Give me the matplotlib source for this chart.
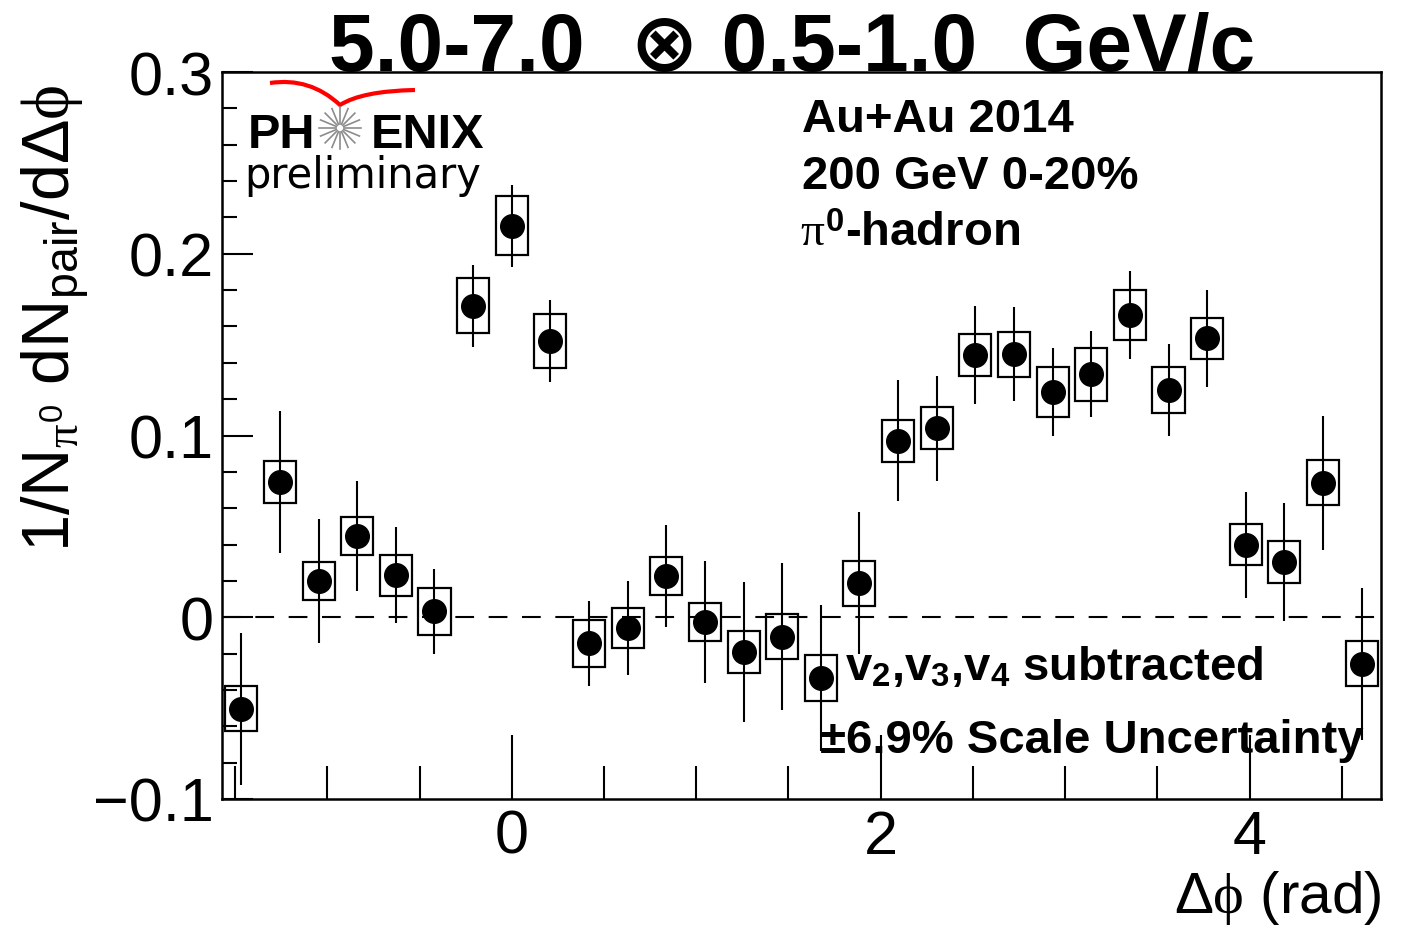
import numpy as np
import matplotlib
matplotlib.use("Agg")
import matplotlib.pyplot as plt
from matplotlib.ticker import MultipleLocator, FuncFormatter
from matplotlib.path import Path
from matplotlib.patches import PathPatch

plt.rcParams["font.family"] = ["Liberation Sans", "DejaVu Sans"]
plt.rcParams["mathtext.fontset"] = "custom"
plt.rcParams["mathtext.rm"] = "Liberation Sans"
plt.rcParams["mathtext.it"] = "Liberation Serif"
plt.rcParams["mathtext.bf"] = "Liberation Sans:bold"

# 30 bins in delta-phi from -pi/2 to 3pi/2
edges = np.linspace(-np.pi / 2, 3 * np.pi / 2, 31)
dphi = 0.5 * (edges[:-1] + edges[1:])

yield_vals = [-0.0503, 0.0744, 0.0199, 0.0447, 0.0232, 0.0034, 0.1713, 0.2153,
              0.1520, -0.0142, -0.0059, 0.0227, -0.0026, -0.0191, -0.0108, -0.0334,
              0.0188, 0.0970, 0.1041, 0.1443, 0.1448, 0.1239, 0.1338, 0.1663,
              0.1250, 0.1536, 0.0398, 0.0304, 0.0739, -0.0256]
stat_err = [0.0418, 0.0391, 0.0341, 0.0305, 0.0264, 0.0234, 0.0226, 0.0226,
            0.0223, 0.0234, 0.0256, 0.0281, 0.0336, 0.0385, 0.0404, 0.0404,
            0.0391, 0.0333, 0.0289, 0.0270, 0.0259, 0.0242, 0.0237, 0.0242,
            0.0253, 0.0267, 0.0292, 0.0325, 0.0371, 0.0418]
sys_err = [0.0124, 0.0116, 0.0105, 0.0105, 0.0113, 0.0129, 0.0151, 0.0162,
           0.0151, 0.0129, 0.0110, 0.0105, 0.0107, 0.0116, 0.0124, 0.0127,
           0.0124, 0.0116, 0.0116, 0.0116, 0.0124, 0.0138, 0.0146, 0.0140,
           0.0127, 0.0113, 0.0113, 0.0116, 0.0124, 0.0124]

y = np.array(yield_vals)
sy = np.array(sys_err)

W, H = 1409, 929
fig = plt.figure(figsize=(W / 100, H / 100), dpi=100)
ax = fig.add_axes([222 / W, 1 - 800 / H, (1381 - 222) / W, (800 - 73) / H])

ax.axhline(0, color="k", lw=1.5, dashes=(9, 7), zorder=1)
ax.bar(dphi, 2 * sy, bottom=y - sy, width=0.174, fill=False,
       edgecolor="k", linewidth=1.6, zorder=2)
ax.errorbar(dphi, y, yerr=stat_err, fmt="o", color="k", ms=17,
            elinewidth=1.5, capsize=0, zorder=3)

ax.set_xlim(-np.pi / 2, 3 * np.pi / 2)
ax.set_ylim(-0.1, 0.3)
ax.set_xticks([0, 2, 4])
ax.xaxis.set_minor_locator(MultipleLocator(0.5))
ax.yaxis.set_major_locator(MultipleLocator(0.1))
ax.yaxis.set_minor_locator(MultipleLocator(0.02))


def yfmt(v, pos):
    if abs(v) < 1e-9:
        return "0"
    return f"{v:.1f}".replace("-", "\u2212")


ax.yaxis.set_major_formatter(FuncFormatter(yfmt))
ax.xaxis.set_major_formatter(FuncFormatter(lambda v, p: f"{v:.0f}"))
ax.tick_params(axis="both", which="both", direction="in", top=False,
               right=False, width=1.5, labelsize=44)
ax.tick_params(axis="y", which="major", length=22, pad=6)
ax.tick_params(axis="y", which="minor", length=11)
ax.tick_params(axis="x", which="major", length=46, pad=7)
ax.tick_params(axis="x", which="minor", length=24)
for s in ax.spines.values():
    s.set_linewidth(1.8)

# labels
fig.text(55 / W, 1 - 85 / H,
         r"$\mathrm{1/N}_{\pi^{0}}\ \mathrm{dN}_{\mathrm{pair}}\mathrm{/d}\Delta\phi$",
         rotation=90, ha="center", va="top", fontsize=48)
fig.text(1381 / W, 1 - 898 / H, r"$\Delta\phi$ (rad)", ha="right",
         va="center", fontsize=42)

fig.text(792 / W, 1 - 71 / H, "5.0-7.0  \u2297 0.5-1.0  GeV/c", ha="center",
         va="baseline", fontsize=59, fontweight="bold")

bold = dict(fontsize=34, fontweight="bold", ha="left", va="baseline")
fig.text(802 / W, 1 - 132 / H, "Au+Au 2014", **bold)
fig.text(802 / W, 1 - 189 / H, "200 GeV 0-20%", **bold)
fig.text(800 / W, 1 - 246 / H, r"$\pi^{\mathbf{0}}$-hadron", **bold)
fig.text(845 / W, 1 - 680 / H,
         r"v$_{\mathbf{2}}$,v$_{\mathbf{3}}$,v$_{\mathbf{4}}$ subtracted", **bold)
fig.text(820 / W, 1 - 753 / H, "\u00b16.9% Scale Uncertainty", **bold)

# PHENIX preliminary logo
logo = dict(fontsize=35, fontweight="bold", family="Liberation Sans",
            va="baseline", color="k")
fig.text(248 / W, 1 - 148 / H, "PH", ha="left", **logo)
fig.text(484 / W, 1 - 148 / H, "ENIX", ha="right", **logo)
fig.text(244 / W, 1 - 188 / H, "preliminary", family="DejaVu Sans",
         fontsize=30, ha="left", va="baseline")

cx, cy = 340, 129
for a in np.linspace(0, 2 * np.pi, 16, endpoint=False):
    x0, y0 = cx + 4 * np.cos(a), cy + 4 * np.sin(a)
    x1, y1 = cx + 21 * np.cos(a), cy + 21 * np.sin(a)
    fig.add_artist(plt.Line2D([x0 / W, x1 / W], [1 - y0 / H, 1 - y1 / H],
                              color="0.55", lw=1.2, transform=fig.transFigure))


def px(x, yy):
    return (x / W, 1 - yy / H)


verts = [px(270, 84), px(310, 78), px(340, 106), px(362, 92), px(415, 91)]
codes = [Path.MOVETO, Path.CURVE3, Path.CURVE3, Path.CURVE3, Path.CURVE3]
fig.add_artist(PathPatch(Path(verts, codes), fill=False, edgecolor="red",
                         lw=3, transform=fig.transFigure))

fig.savefig("out.png", dpi=100)
